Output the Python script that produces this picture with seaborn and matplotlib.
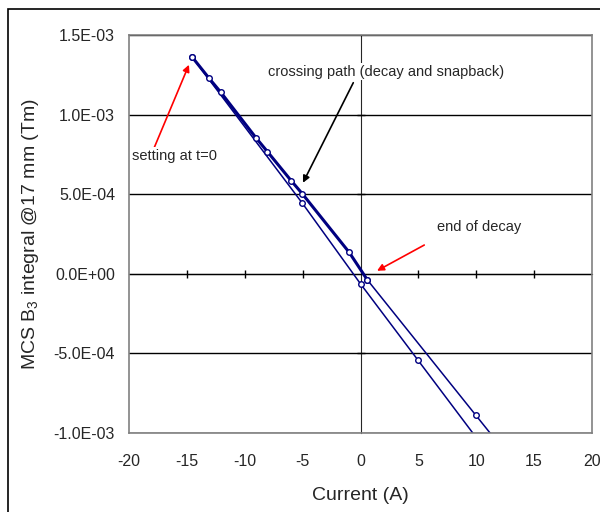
import numpy as np
import pandas as pd
import seaborn as sns
import matplotlib.pyplot as plt
from matplotlib.patches import Rectangle
from matplotlib.ticker import FuncFormatter, MultipleLocator

# current (A) and B3 integral (Tm)
ramp_i = [-14.56, -5.03, 0.0, 4.94, 15.0]
ramp_b = [1.363e-3, 0.444e-3, -0.063e-3, -0.540e-3, -1.512e-3]

cross_i = [-14.56, -13.07, -12.08, -9.05, -8.05, -5.98, -5.03, -0.97, 0.59]
cross_b = [1.363e-3, 1.227e-3, 1.141e-3, 0.856e-3, 0.768e-3, 0.584e-3, 0.503e-3, 0.134e-3, -0.038e-3]

after_i = [0.59, 9.98, 15.0]
after_b = [-0.038e-3, -0.890e-3, -1.345e-3]

x_ticks = [-20, -15, -10, -5, 0, 5, 10, 15, 20]

sns.set_style('white')
plt.rcParams['font.family'] = ['Liberation Sans', 'DejaVu Sans']
plt.rcParams['axes.unicode_minus'] = False

navy = '#000080'

fig = plt.figure(figsize=(6, 5.12), dpi=100)
ax = fig.add_axes([129/600, 1-433/512, (592-129)/600, (433-35)/512])

fig.patches.append(Rectangle((8/600, -0.1), 1.2, 0.1 + 1-9/512, transform=fig.transFigure,
                             fill=False, edgecolor='black', linewidth=1.2))

mk = dict(marker='o', markersize=4, markerfacecolor='white', markeredgecolor=navy,
          markeredgewidth=1.0, color=navy)
sns.lineplot(x=ramp_i, y=ramp_b, sort=False, linewidth=1.1, ax=ax, **mk)
sns.lineplot(x=after_i, y=after_b, sort=False, linewidth=1.1, ax=ax, **mk)
sns.lineplot(x=cross_i, y=cross_b, sort=False, linewidth=2.2, ax=ax, **mk)

ax.set_xlim(-20, 20)
ax.set_ylim(-1.0e-3, 1.5e-3)
ax.set_xticks(x_ticks)
ax.yaxis.set_major_locator(MultipleLocator(5e-4))
ax.yaxis.set_major_formatter(FuncFormatter(lambda v, p: f'{v:.1E}'))
ax.tick_params(length=0, labelsize=11.5)
ax.tick_params(axis='x', pad=15)
ax.tick_params(axis='y', pad=10)
for s in ax.spines.values():
    s.set_color('#808080')
    s.set_linewidth(1.2)
ax.grid(axis='y', color='black', linewidth=1.0)
ax.set_axisbelow(True)

# axis lines crossing at zero, with tick marks
sx = ax.secondary_xaxis(0.4)
sx.set_xticks([t for t in x_ticks if t not in (-20, 0, 20)])
sx.set_xticklabels([])
sx.tick_params(direction='inout', length=6, color='black', width=1)
sx.spines['bottom'].set_color('black')
sy = ax.secondary_yaxis(0.5)
sy.set_yticks([-5e-4, 5e-4, 1e-3])
sy.set_yticklabels([])
sy.tick_params(direction='inout', length=6, color='black', width=1)
sy.spines['left'].set_color('#555555')
sy.spines['left'].set_linewidth(1.2)

ax.set_xlabel('Current (A)', fontsize=14, labelpad=13)
ax.set_ylabel(r'MCS B$_\mathregular{3}$ integral @17 mm (Tm)', fontsize=14, labelpad=9)

box = dict(facecolor='white', edgecolor='none', pad=1)
ax.annotate('setting at t=0', xy=(-14.82, 1.313e-3), xytext=(-19.7, 0.741e-3),
            fontsize=10.5, va='center', ha='left', bbox=box,
            arrowprops=dict(arrowstyle='-|>', color='red', lw=1.2, mutation_scale=10,
                            shrinkA=0, shrinkB=0, relpos=(0.25, 1.0)))
ax.annotate('crossing path (decay and snapback)', xy=(-4.97, 0.572e-3), xytext=(-8.0, 1.269e-3),
            fontsize=10.5, va='center', ha='left', bbox=box,
            arrowprops=dict(arrowstyle='-|>', color='black', lw=1.2, mutation_scale=10,
                            shrinkA=2, shrinkB=0, relpos=(0.37, 0.0)))
ax.annotate('end of decay', xy=(1.43, 0.019e-3), xytext=(6.6, 0.295e-3),
            fontsize=10.5, va='center', ha='left', bbox=box,
            arrowprops=dict(arrowstyle='-|>', color='red', lw=1.2, mutation_scale=10,
                            shrinkA=0, shrinkB=0, relpos=(-0.15, -0.8)))

fig.savefig('out.png', dpi=100)
